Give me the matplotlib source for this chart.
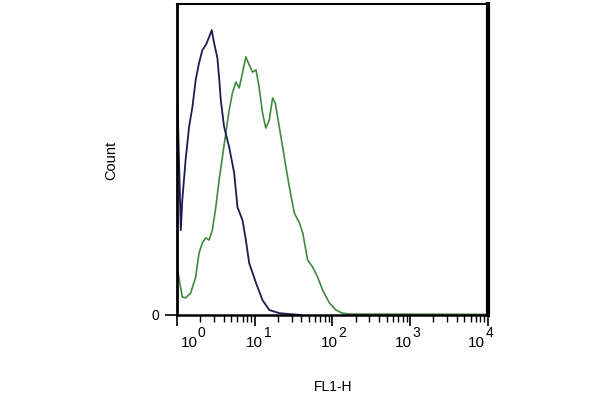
import matplotlib
matplotlib.use('Agg')
import matplotlib.pyplot as plt
import numpy as np

plt.rcParams['font.family'] = ['Liberation Sans', 'DejaVu Sans']

# FL1-H channel values and counts
blue_x = [1.0, 1.0, 1.12, 1.17, 1.29, 1.43, 1.58, 1.74, 1.92, 2.12, 2.35, 2.59, 2.80,
          3.00, 3.31, 3.48, 3.66, 4.04, 4.69, 5.44, 6.00, 6.96, 7.70, 8.49, 10.4,
          12.6, 15.4, 20.7, 27.9, 40.0]
blue_y = [0.0, 74.6, 27.3, 37.0, 49.8, 60.5, 66.9, 75.6, 81.0, 85.2, 86.8, 89.4, 91.6,
          87.5, 82.6, 76.5, 69.1, 60.5, 54.0, 45.7, 34.7, 30.5, 24.1, 16.7, 10.3,
          4.8, 1.6, 0.6, 0.3, 0.0]

green_x = [1.0, 1.17, 1.29, 1.50, 1.74, 1.92, 2.12, 2.35, 2.59, 2.85, 3.16, 3.48, 3.84,
           4.25, 4.69, 5.17, 5.72, 6.32, 6.96, 7.70, 8.49, 9.38, 10.4, 11.4, 12.6,
           13.9, 15.4, 17.0, 18.4, 20.7, 22.9, 25.2, 27.9, 32.3, 37.6, 41.5, 48.0,
           55.7, 64.5, 74.9, 91.4, 111, 134, 166, 10000]
green_y = [15.4, 5.8, 5.5, 7.1, 12.2, 19.9, 23.2, 24.8, 24.1, 27.3, 34.7, 43.4, 50.8,
           58.5, 65.9, 71.4, 74.9, 73.0, 77.8, 83.0, 80.4, 78.1, 78.8, 73.3, 65.0,
           60.1, 62.7, 69.8, 68.2, 60.5, 54.0, 47.6, 41.2, 32.8, 29.6, 26.4, 17.7,
           15.4, 12.2, 8.0, 3.9, 1.6, 0.6, 0.3, 0.2]

decades = [1, 10, 100, 1000, 10000]
exponents = ['0', '1', '2', '3', '4']
label_shift = [12, 0, -3, -6.5, -11]   # px, labels don't sit exactly under ticks

fig = plt.figure(figsize=(6, 4), dpi=100)
ax = fig.add_axes([0.295, 0.2125, 0.518, 0.7775])

ax.plot(green_x, green_y, color='#3f8a3f', lw=1.2)
ax.plot(blue_x, blue_y, color='#1c1c55', lw=1.3)

ax.set_xscale('log')
ax.set_xlim(1, 10000)
ax.set_ylim(0, 100)

ax.set_xticks(decades)
ax.set_xticklabels([])
ax.xaxis.set_minor_locator(matplotlib.ticker.LogLocator(base=10, subs=np.arange(2, 10)))
ax.xaxis.set_minor_formatter(matplotlib.ticker.NullFormatter())
ax.tick_params(axis='x', which='major', length=8, width=1.2, direction='out')
ax.tick_params(axis='x', which='minor', length=5, width=1.0, direction='out')

# decade labels drawn by hand so the exponent is nearly full size
for d, e, s in zip(decades, exponents, label_shift):
    ax.annotate('10', xy=(d, 0), xycoords=('data', 'axes fraction'),
                xytext=(s, -21), textcoords='offset pixels',
                ha='center', va='top', fontsize=11)
    ax.annotate(e, xy=(d, 0), xycoords=('data', 'axes fraction'),
                xytext=(s + 9, -11), textcoords='offset pixels',
                ha='left', va='top', fontsize=10)

ax.set_yticks([0])
ax.set_yticklabels(['0'], fontsize=10)
ax.tick_params(axis='y', length=9, width=1.2, direction='out', pad=4)

ax.spines['left'].set_linewidth(2.0)
ax.spines['bottom'].set_linewidth(1.8)
ax.spines['top'].set_linewidth(1.5)
ax.spines['right'].set_linewidth(3.0)

fig.text(111 / 600, 1 - 160 / 400, 'Count', rotation=90, ha='center', va='center', fontsize=10.5)
fig.text(333 / 600, 1 - 387 / 400, 'FL1-H', ha='center', va='center', fontsize=10)

fig.savefig('out.png', dpi=100)
